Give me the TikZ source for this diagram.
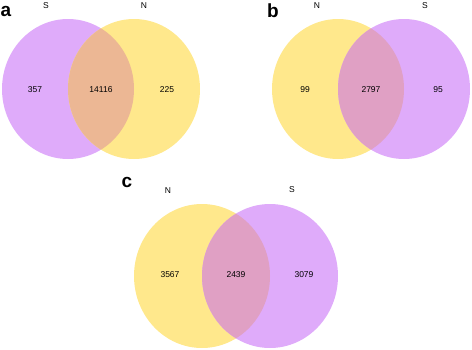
\documentclass[tikz,border=0pt]{standalone}
\usepackage{fontspec}
\setmainfont{Liberation Sans}
\definecolor{vpurple}{RGB}{223,171,250}
\definecolor{vyellow}{RGB}{255,232,140}
\definecolor{lensa}{RGB}{236,183,148}
\definecolor{lensb}{RGB}{224,160,196}
\tikzset{
  setname/.style={font=\fontsize{8.5}{10}\selectfont, inner sep=0pt},
  count/.style={font=\fontsize{8.5}{10}\selectfont, inner sep=0pt},
  panel/.style={font=\fontsize{19}{20}\bfseries, inner sep=0pt}
}
\begin{document}
\begin{tikzpicture}[x=1pt,y=-1pt]
 \useasboundingbox (0,0) rectangle (472,349);
 % a
 \fill[vpurple] (68,89) ellipse (66 and 70);
 \fill[vyellow] (134,89) ellipse (66 and 70);
 \begin{scope}
  \clip (68,89) ellipse (66 and 70);
  \fill[lensa] (134,89) ellipse (66 and 70);
 \end{scope}
 \node[panel] (la) at (6,11) {a};
 \node[setname] (sa) at (46,6) {S};
 \node[setname] (na) at (144,6) {N};
 \node[count] (a1) at (35,90) {357};
 \node[count] (a2) at (101,90) {14116};
 \node[count] (a3) at (167,90) {225};
 % b
 \fill[vyellow] (338,89) ellipse (66 and 70);
 \fill[vpurple] (404,89) ellipse (66 and 70);
 \begin{scope}
  \clip (338,89) ellipse (66 and 70);
  \fill[lensb] (404,89) ellipse (66 and 70);
 \end{scope}
 \node[panel] (lb) at (273,11) {b};
 \node[setname] (nb) at (317,6) {N};
 \node[setname] (sb) at (425,6) {S};
 \node[count] (b1) at (305,90) {99};
 \node[count] (b2) at (371,90) {2797};
 \node[count] (b3) at (438,90) {95};
 % c
 \fill[vyellow] (202,276) ellipse (68 and 72);
 \fill[vpurple] (270,276) ellipse (68 and 72);
 \begin{scope}
  \clip (202,276) ellipse (68 and 72);
  \fill[lensb] (270,276) ellipse (68 and 72);
 \end{scope}
 \node[panel] (lc) at (127,182) {c};
 \node[setname] (nc) at (168,191) {N};
 \node[setname] (sc) at (292,190) {S};
 \node[count] (c1) at (170,275) {3567};
 \node[count] (c2) at (236,275) {2439};
 \node[count] (c3) at (304,275) {3079};
\end{tikzpicture}
\end{document}
